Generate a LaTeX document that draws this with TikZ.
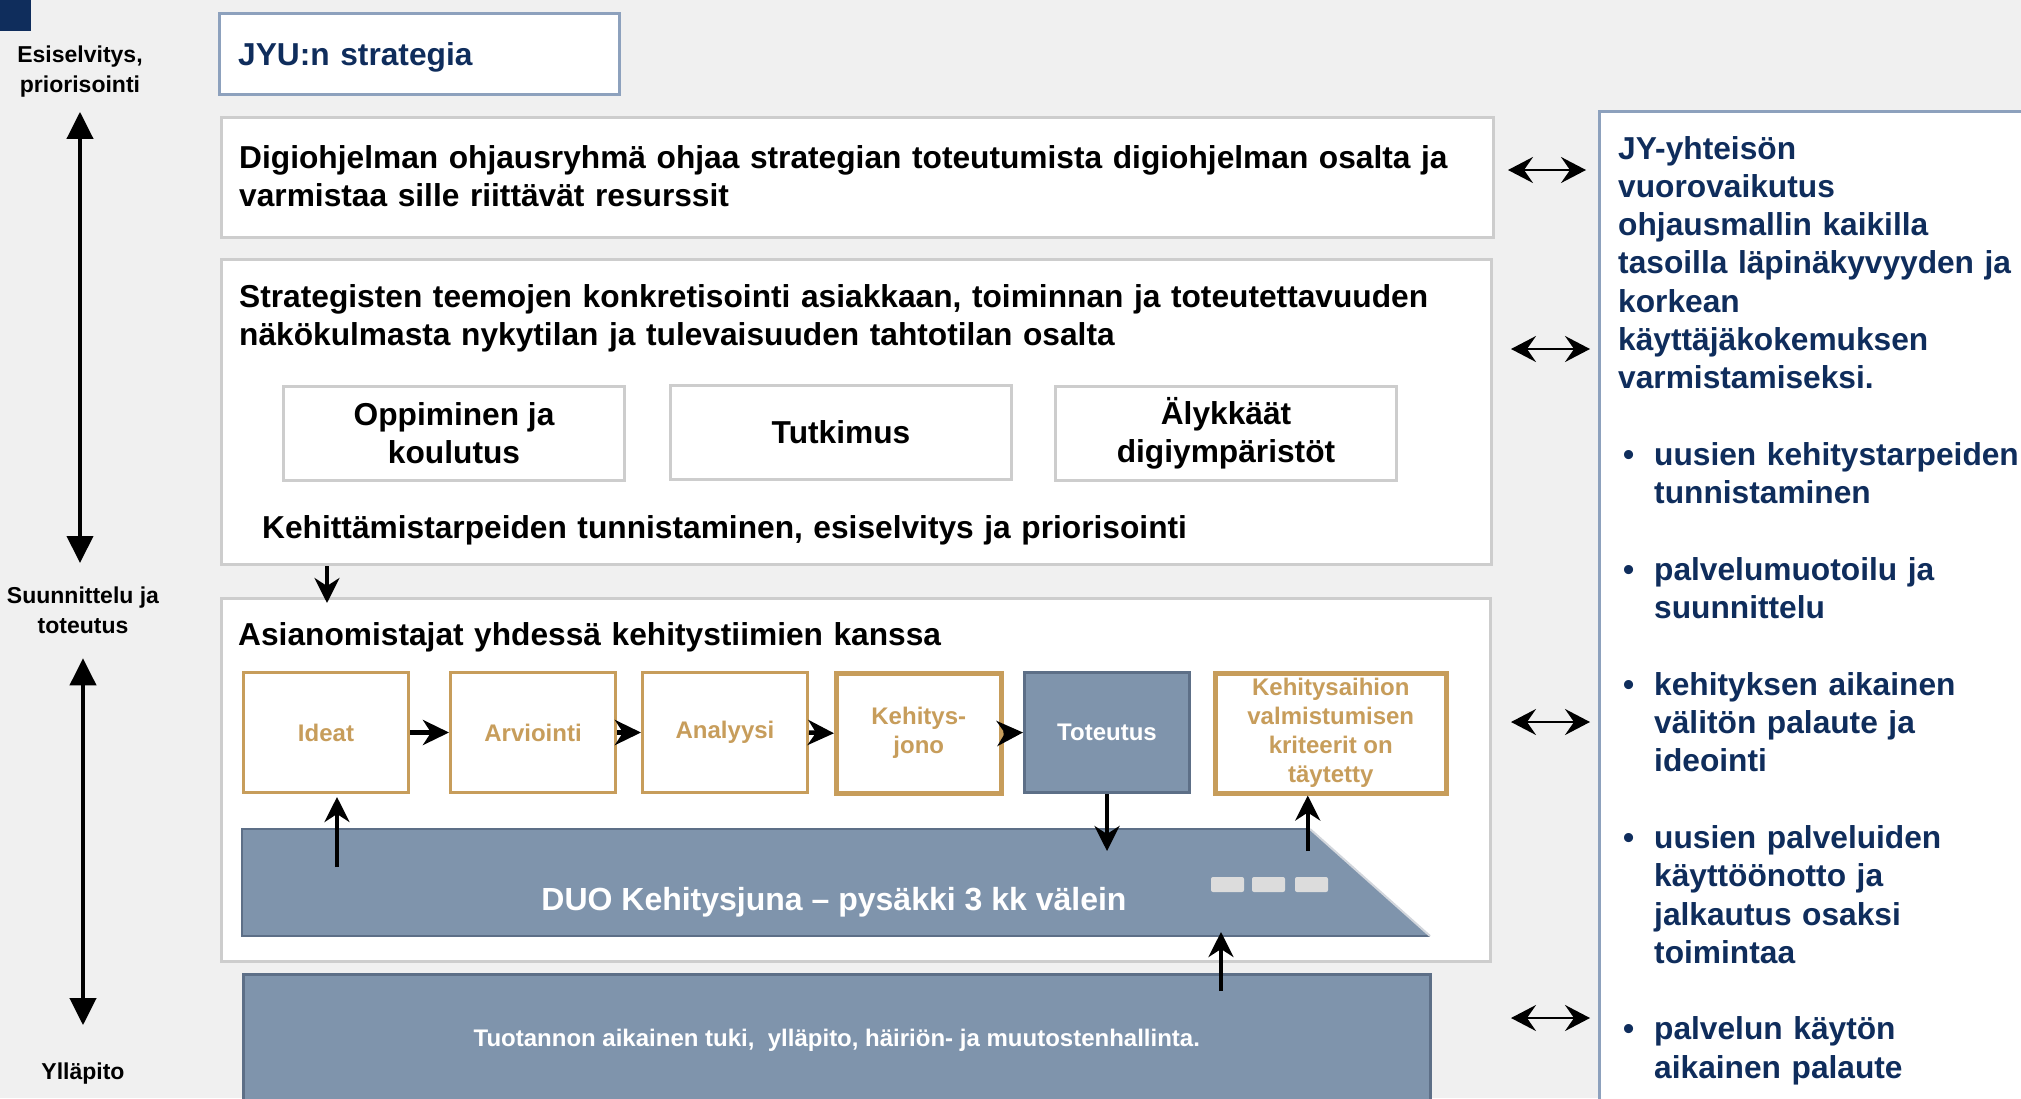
\documentclass[tikz,border=0pt]{standalone}
\usepackage{fontspec}
\setmainfont{Liberation Sans}
\usetikzlibrary{arrows.meta,positioning,calc}
\definecolor{navy}{HTML}{0F2D5C}
\definecolor{gold}{HTML}{C79D5B}
\definecolor{steel}{HTML}{7F94AC}
\definecolor{steeldark}{HTML}{5D6F87}
\definecolor{frame}{HTML}{8DA1BD}
\definecolor{panelline}{HTML}{CDCDCD}
\definecolor{backdrop}{HTML}{F0F0F0}
\definecolor{window}{HTML}{DCDCDC}
\definecolor{slant}{HTML}{D2D6DC}
\newcommand{\fsz}[2]{\fontsize{#1}{#2}\selectfont\bfseries}
\newcommand{\itemdot}{\hspace*{5pt}\makebox[31pt][l]{•}}
\newcommand{\itemgap}{\hspace*{36pt}}

\begin{document}
\begin{tikzpicture}[
  x=1pt,y=-1pt,
  panel/.style={draw=panelline,line width=3pt,fill=white,anchor=north west,inner sep=0pt},
  theme/.style={panel,minimum width=341pt,minimum height=94pt,align=center,font=\fsz{31.7}{38}},
  stage/.style={draw=gold,line width=3pt,fill=white,anchor=north west,minimum width=165pt,
                minimum height=120pt,inner sep=0pt,align=center,text=gold,font=\fsz{24}{29}},
  heading/.style={anchor=base west,inner sep=0pt,align=left,text width=1240pt,font=\fsz{31.7}{38.5}},
  phase/.style={anchor=north,inner sep=0pt,align=center,font=\fsz{23}{30}},
  flow/.style={-{Stealth[length=26pt,width=25pt,inset=8pt]},line width=4.5pt},
  lift/.style={-{Stealth[length=25pt,width=25pt,inset=8pt]},line width=4pt},
  span/.style={{Triangle[length=27pt,width=26pt]}-{Triangle[length=27pt,width=26pt]},line width=4pt},
  link/.style={{Stealth[length=25pt,width=26pt,inset=9pt]}-{Stealth[length=25pt,width=26pt,inset=9pt]},line width=2.5pt}
]
\useasboundingbox[fill=backdrop] (0,0) rectangle (2021,1098);
\fill[navy] (0,0) rectangle (31,31);

% phases on the left
\node[phase] (lprep) at (80,46) {Esiselvitys,\\priorisointi};
\node[phase] (ldev) at (83,587) {Suunnittelu ja\\toteutus};
\node[phase,anchor=base] (lmaint) at (83,1079) {Ylläpito};
\draw[span,shorten <=14pt,shorten >=24pt] (lprep.south) -- (lprep.south |- ldev.north);
\draw[span,shorten <=24pt,shorten >=37pt] (ldev.south) -- (ldev.south |- lmaint.north);

% strategy and steering
\node[draw=frame,line width=3pt,fill=white,anchor=north west,minimum width=400pt,
      minimum height=81pt,inner sep=0pt] (strategy) at (218,12) {};
\node[heading,text=navy] (strategytext) at (238,65) {JYU:n strategia};
\node[panel,minimum width=1272pt,minimum height=120pt] (steer) at (220,116) {};
\node[heading] (steertext) at (239,168) {Digiohjelman ohjausryhmä ohjaa strategian toteutumista digiohjelman osalta ja\\varmistaa sille riittävät resurssit};

% strategic themes
\node[panel,minimum width=1270pt,minimum height=305pt] (themes) at (220,258) {};
\node[heading] (themestext) at (239,307) {Strategisten teemojen konkretisointi asiakkaan, toiminnan ja toteutettavuuden\\näkökulmasta nykytilan ja tulevaisuuden tahtotilan osalta};
\node[theme] (learn) at (282,385) {Oppiminen ja\\koulutus};
\node[theme] (research) at (669,384) {Tutkimus};
\node[theme] (smart) at (1054,385) {Älykkäät\\digiympäristöt};
\node[heading] (needs) at (262,538) {Kehittämistarpeiden tunnistaminen, esiselvitys ja priorisointi};

% owners and development teams
\node[panel,minimum width=1269pt,minimum height=363pt] (owners) at (220,597) {};
\node[heading] (ownerstext) at (238,645) {Asianomistajat yhdessä kehitystiimien kanssa};
\draw[lift] ($(themes.south west)+(107,0)$) -- ($(owners.north west)+(107,6)$);

\node[stage] (ideas) at (242,671) {Ideat};
\node[stage] (review) at (449,671) {Arviointi};
\node[stage] (analysis) at (641,671) {Analyysi};
\node[stage,line width=4.5pt] (backlog) at (834,671) {Kehitys-\\jono};
\node[stage,draw=steeldark,fill=steel,text=white] (build) at (1023,671) {Toteutus};
\node[stage,line width=4.5pt,minimum width=231pt] (done) at (1213,671) {Kehitysaihion\\valmistumisen\\kriteerit on\\täytetty};
\foreach \a/\b in {ideas/review,review/analysis,analysis/backlog,backlog/build}
  \draw[flow] (\a.east) -- (\b.west);

% development train
\node[minimum width=1188pt,minimum height=107pt,anchor=north west,inner sep=0pt,outer sep=0pt] (train) at (242,829) {};
\coordinate (nose) at ($(train.north east)+(-120,0)$);
\fill[steel] (train.north west) -- (nose) -- (train.south east) -- (train.south west) -- cycle;
\draw[steeldark,line width=2pt] (nose) -- (train.north west) -- (train.south west) -- (train.south east);
\draw[slant,line width=2pt] (nose) -- (train.south east);
\foreach \wx in {1211,1252,1295}
  \fill[window,rounded corners=2pt] (\wx,877) rectangle ++(33,15);
\node[anchor=base,inner sep=0pt,text=white,font=\fsz{32}{36}] (duo) at (834,910) {DUO Kehitysjuna – pysäkki 3 kk välein};

\draw[lift] ($(ideas.south |- train.north)+(11,38)$) -- ($(ideas.south)+(11,3)$);
\draw[lift] (build.south) -- ($(build.south |- train.north)+(0,22)$);
\draw[lift] ($(done.south |- train.north)+(-23,22)$) -- ($(done.south)+(-23,0)$);

% production support
\node[draw=steeldark,fill=steel,line width=2.5pt,anchor=north west,minimum width=1187pt,
      minimum height=132pt,inner sep=0pt,text=white,font=\fsz{24}{28}] (support) at (242,973)
      {Tuotannon aikainen tuki,~ ylläpito, häiriön- ja muutostenhallinta.};
\draw[lift] ($(support.north west)+(979,18)$) -- ($(train.south west)+(979,-4)$);

% community interaction
\node[draw=frame,line width=3pt,fill=white,anchor=north west,minimum width=500pt,
      minimum height=1100pt,inner sep=0pt] (voice) at (1598,110) {};
\node[anchor=base west,inner sep=0pt,align=left,text width=440pt,text=navy,
      font=\fsz{31.7}{38.3}] (voicetext) at (1618,159) {JY-yhteisön\\vuorovaikutus\\ohjausmallin kaikilla\\tasoilla läpinäkyvyyden ja\\korkean\\käyttäjäkokemuksen\\varmistamiseksi.\\[38.3pt]
\itemdot uusien kehitystarpeiden\\\itemgap tunnistaminen\\[38.3pt]
\itemdot palvelumuotoilu ja\\\itemgap suunnittelu\\[38.3pt]
\itemdot kehityksen aikainen\\\itemgap välitön palaute ja\\\itemgap ideointi\\[38.3pt]
\itemdot uusien palveluiden\\\itemgap käyttöönotto ja\\\itemgap jalkautus osaksi\\\itemgap toimintaa\\[38.3pt]
\itemdot palvelun käytön\\\itemgap aikainen palaute};
\foreach \n/\y/\xa/\xb in {a/170/1508/1586,b/349/1511/1590,c/722/1511/1590,d/1018/1511/1590}{
  \coordinate (l\n) at (\xa,\y);
  \coordinate (r\n) at (\xb,\y);
  \draw[link] (l\n) -- (r\n);
}
\end{tikzpicture}
\end{document}
